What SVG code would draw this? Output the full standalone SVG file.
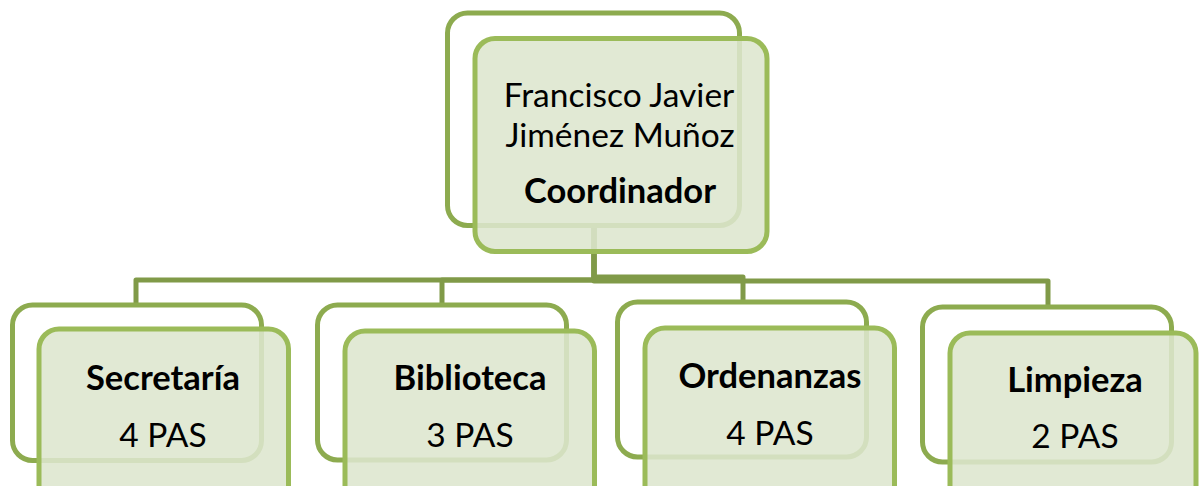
<svg xmlns="http://www.w3.org/2000/svg" width="1199" height="486" viewBox="0 0 1199 486">
<style>
.back{fill:#ffffff;stroke:#8DAB4F;stroke-width:5}
.front{fill:#DDE6CE;fill-opacity:0.88;stroke:#9BBB59;stroke-width:5}
.conn{fill:none;stroke:#809A48;stroke-width:5;stroke-linejoin:round}
.t{font-family:Lato,"Open Sans","Liberation Sans",sans-serif;font-size:33.5px;fill:#000;text-anchor:middle}
.b{font-weight:bold;font-size:34.5px}
</style>
<rect width="1199" height="486" fill="#ffffff"/>
<g id="connectors">
<path class="conn" d="M594,226 V280 H136 V303"/>
<path class="conn" d="M594,226 V280 H442 V303"/>
<path class="conn" d="M594,226 V277 H743 V300"/>
<path class="conn" d="M594,226 V281 H1048 V305"/>
</g>
<g id="coordinador">
<rect class="back" x="447.5" y="13" width="292" height="212.5" rx="20"/>
<rect class="front" x="475" y="38.5" width="292" height="213" rx="20"/>
<text class="t" x="619" y="107">Francisco Javier</text>
<text class="t" x="620" y="147">Jiménez Muñoz</text>
<text class="t b" x="620" y="203">Coordinador</text>
</g>
<g id="secretaria">
<rect class="back" x="12.5" y="305" width="249" height="155.5" rx="20"/>
<rect class="front" x="39" y="329" width="249.5" height="180" rx="20"/>
<text class="t b" x="163" y="390">Secretaría</text>
<text class="t" x="163" y="447">4 PAS</text>
</g>
<g id="biblioteca">
<rect class="back" x="317.5" y="305" width="249" height="155" rx="20"/>
<rect class="front" x="345" y="331" width="249.5" height="180" rx="20"/>
<text class="t b" x="470" y="390">Biblioteca</text>
<text class="t" x="470" y="447">3 PAS</text>
</g>
<g id="ordenanzas">
<rect class="back" x="617.5" y="302" width="249" height="155" rx="20"/>
<rect class="front" x="645" y="328" width="249.5" height="180" rx="20"/>
<text class="t b" x="770" y="388">Ordenanzas</text>
<text class="t" x="770" y="445">4 PAS</text>
</g>
<g id="limpieza">
<rect class="back" x="922.5" y="307" width="249" height="155" rx="20"/>
<rect class="front" x="950" y="333" width="246" height="180" rx="20"/>
<text class="t b" x="1075" y="392">Limpieza</text>
<text class="t" x="1075" y="448">2 PAS</text>
</g>
</svg>
